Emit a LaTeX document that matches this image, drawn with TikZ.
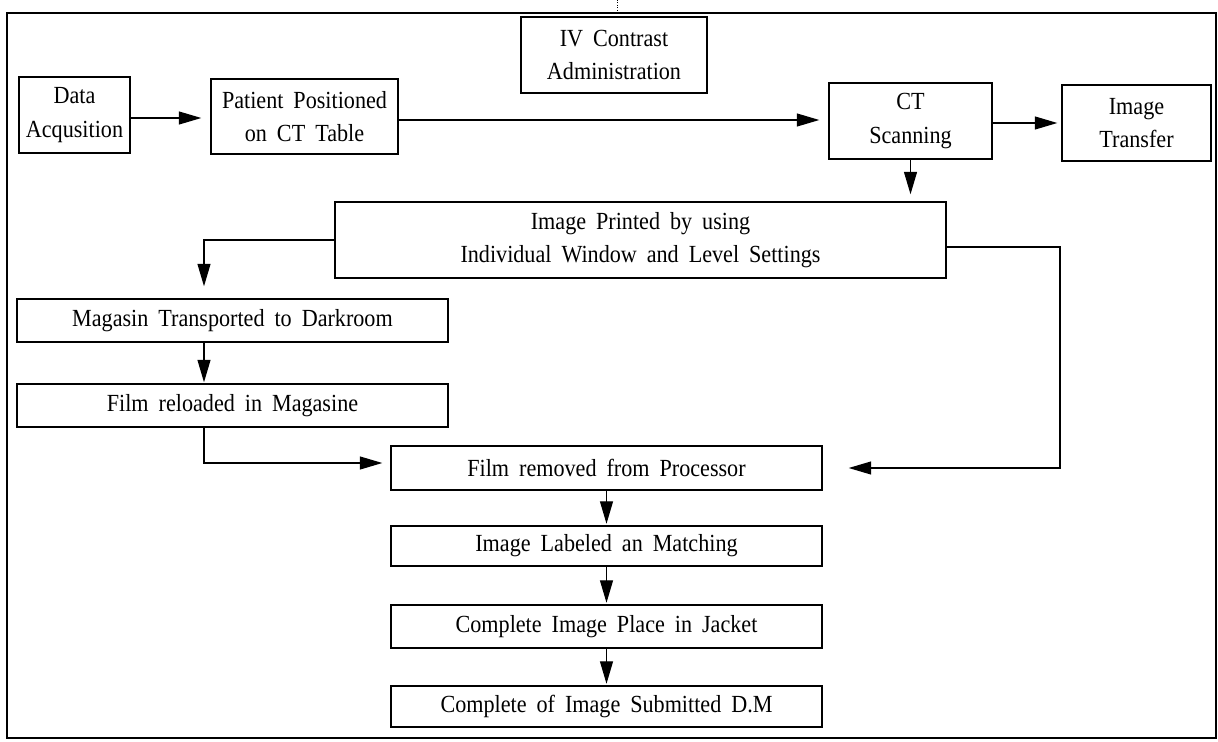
\documentclass[tikz,border=0pt]{standalone}
\usepackage{fontspec}
\setmainfont{Liberation Serif}[FakeStretch=0.9,WordSpace=1.8]
\usepackage{tikz}
\usetikzlibrary{arrows.meta, calc}
\tikzset{
  procnode/.style = {rectangle, draw, align=center, line width=0.8pt, inner xsep=2pt, inner ysep=0pt, font=\fontsize{14}{19}\selectfont},
  rownode/.style = {procnode, minimum width=8.62cm},
  arr/.style = {line width=0.7pt, -{Triangle[length=4.5mm,width=2.6mm]}, shorten >=0.18cm}
}

\begin{document}
\begin{tikzpicture}
    \useasboundingbox (0,0) rectangle (24.36,-14.84);
    \draw[line width=0.8pt] (0.14,-0.26) rectangle (24.32,-14.76);
    \draw[densely dotted] (12.34,0) -- (12.34,-0.26);

    % top row
    \node[procnode, minimum width=2.22cm, minimum height=1.52cm] (data) at (1.49,-2.30) {Data\\Acqusition};
    \node[procnode, minimum width=3.74cm, minimum height=1.5cm] (patient) at (6.09,-2.33) {Patient Positioned\\on CT Table};
    \node[procnode, minimum width=3.72cm, minimum height=1.52cm] (ivc) at (12.28,-1.10) {IV Contrast\\Administration};
    \node[procnode, minimum width=3.26cm, minimum height=1.52cm] (ct) at (18.21,-2.42) {CT\\Scanning};
    \node[procnode, minimum width=2.98cm, minimum height=1.52cm] (transfer) at (22.73,-2.46) {Image\\Transfer};

    \node[procnode, minimum width=12.22cm, minimum height=1.52cm] (printed) at (12.81,-4.80) {Image Printed by using\\Individual Window and Level Settings};

    % left branch
    \node[rownode, minimum height=0.86cm] (magasin) at (4.65,-6.41) {Magasin Transported to Darkroom};
    \node[rownode, minimum height=0.86cm] (reload) at (4.65,-8.11) {Film reloaded in Magasine};

    % bottom column
    \node[rownode, minimum height=0.88cm] (removed) at (12.13,-9.36) {Film removed from Processor};
    \node[rownode, minimum height=0.8cm] (labeled) at (12.13,-10.92) {Image Labeled an Matching};
    \node[rownode, minimum height=0.86cm] (jacket) at (12.13,-12.53) {Complete Image Place in Jacket};
    \node[rownode, minimum height=0.82cm] (submit) at (12.13,-14.13) {Complete of Image Submitted D.M};

    \coordinate (rbend) at (21.2,-4.94);

    \draw[arr] ([yshift=-0.06cm]data.east) -- ([yshift=-0.06cm]data.east -| patient.west);
    \draw[arr] ([yshift=-0.07cm]patient.east) -- ([yshift=-0.07cm]patient.east -| ct.west);
    \draw[arr, shorten >=0.08cm] ([yshift=-0.04cm]ct.east) -- ([yshift=-0.04cm]ct.east -| transfer.west);
    \draw[arr, shorten >=0.14cm] (ct.south) -- (ct.south |- printed.north);

    \draw[arr, shorten >=0.24cm] (printed.west) -| ([xshift=-0.57cm]magasin.north);
    \draw[arr, shorten >=0.02cm] ([xshift=-0.57cm]magasin.south) -- ([xshift=-0.57cm]reload.north);
    \draw[arr, shorten >=0.16cm] ([xshift=-0.57cm]reload.south) |- ([yshift=0.10cm]removed.west);
    \draw[arr, shorten >=0.52cm] (printed.east |- rbend) -- (rbend) |- (removed.east);

    \draw[arr, shorten >=0.03cm] (removed) -- (labeled);
    \draw[arr, shorten >=0.03cm] (labeled) -- (jacket);
    \draw[arr, shorten >=0.03cm] (jacket) -- (submit);
\end{tikzpicture}
\end{document}
